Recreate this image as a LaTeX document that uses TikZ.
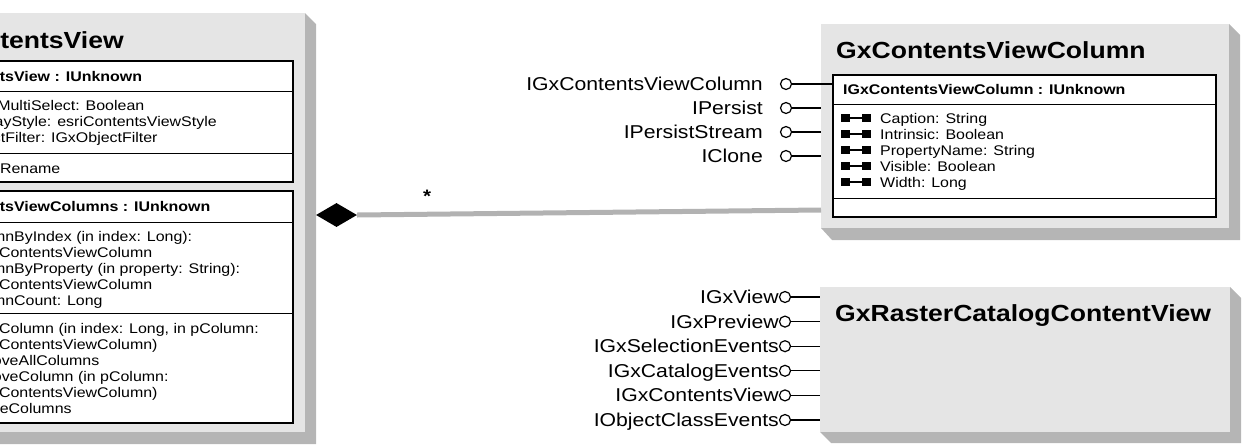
\documentclass[tikz,border=0pt]{standalone}
\usepackage{fontspec}
\setmainfont{Liberation Sans}[FakeStretch=1.14]
\usetikzlibrary{shapes.geometric}
\definecolor{facegray}{gray}{0.90}
\definecolor{shadegray}{gray}{0.71}
\definecolor{conngray}{gray}{0.70}
\tikzset{
  txt/.style={anchor=base west, inner sep=0pt, font=\fontsize{14}{16}\selectfont},
  hdr/.style={anchor=base west, inner sep=0pt, font=\fontsize{14}{16}\selectfont\bfseries},
  ttl/.style={anchor=base west, inner sep=0pt, font=\fontsize{23.3}{26}\selectfont\bfseries},
  lbl/.style={anchor=base east, inner sep=0pt, font=\fontsize{18.6}{20}\selectfont},
  lolli/.style={circle, draw, line width=1.2pt, fill=white, minimum size=11pt, inner sep=0pt},
  lollline/.style={line width=1.3pt},
  ibox/.style={draw, line width=1.5pt, fill=white},
  divider/.style={line width=1pt},
  facebox/.style={fill=facegray, draw=none, anchor=north west, inner sep=0pt},
  shadow/.style={fill=shadegray, draw=none},
  propicon/.style={fill=black},
}
\begin{document}
\begin{tikzpicture}[x=1pt,y=-1pt]
\useasboundingbox (0,0) rectangle (1243,445);
\clip (0,0) rectangle (1243,445);

% ---------- left class GxContentsView ----------
\fill[shadow] (305,13) -- (316,24) -- (316,444) -- (-91,444) -- (-102,432) -- cycle;
\node[facebox, minimum width=407pt, minimum height=419pt] (cv) at (-102,13) {};
\node[ttl] (cvtitle) at (-87,48) {GxContentsView};
% box 1
\draw[ibox] (-92,61) rectangle (293,182);
\draw[divider] (-92,91) -- (293,91);
\draw[divider] (-92,153) -- (293,153);
\node[hdr] (cvh1) at (-81,81) {IGxContentsView : IUnknown};
\node[txt] (cva1) at (-41,110) {AllowMultiSelect: Boolean};
\node[txt] (cva2) at (-41,126) {DisplayStyle: esriContentsViewStyle};
\node[txt] (cva3) at (-41,142) {ObjectFilter: IGxObjectFilter};
\node[txt] (cvm1) at (-41,173) {BeginRename};
% box 2
\draw[ibox] (-92,191) rectangle (293,423);
\draw[divider] (-92,222) -- (293,222);
\draw[divider] (-92,313) -- (293,313);
\node[hdr] (cvh2) at (-81,211) {IGxContentsViewColumns : IUnknown};
\node[txt] (cvb1) at (-41,241) {ColumnByIndex (in index: Long):};
\node[txt] (cvb2) at (-26,257) {IGxContentsViewColumn};
\node[txt] (cvb3) at (-41,273) {ColumnByProperty (in property: String):};
\node[txt] (cvb4) at (-26,289) {IGxContentsViewColumn};
\node[txt] (cvb5) at (-41,305) {ColumnCount: Long};
\node[txt] (cvn1) at (-41,333) {InsertColumn (in index: Long, in pColumn:};
\node[txt] (cvn2) at (-26,349) {IGxContentsViewColumn)};
\node[txt] (cvn3) at (-41,365) {RemoveAllColumns};
\node[txt] (cvn4) at (-41,381) {RemoveColumn (in pColumn:};
\node[txt] (cvn5) at (-26,397) {IGxContentsViewColumn)};
\node[txt] (cvn6) at (-43,413) {UpdateColumns};

% ---------- right class GxContentsViewColumn ----------
\fill[shadow] (1229,24) -- (1240,35) -- (1240,240) -- (832,240) -- (821,228) -- cycle;
\node[facebox, minimum width=408pt, minimum height=204pt] (col) at (821,24) {};
\node[ttl] (coltitle) at (836,58) {GxContentsViewColumn};
\node[ibox, anchor=north west, minimum width=383pt, minimum height=142pt, inner sep=0pt] (colint) at (832,74) {};
\draw[divider] (832,104) -- (1215,104);
\draw[divider] (832,198) -- (1215,198);
\node[hdr] (colh) at (843,94) {IGxContentsViewColumn : IUnknown};
\foreach \t [count=\i] in {Caption: String, Intrinsic: Boolean, PropertyName: String, Visible: Boolean, Width: Long}{
  \pgfmathsetmacro\yy{123+16*(\i-1)}
  \fill[propicon] (841,\yy-9) rectangle (850,\yy-1);
  \fill[propicon] (862,\yy-9) rectangle (871,\yy-1);
  \draw[line width=1.2pt] (850,\yy-5) -- (862,\yy-5);
  \node[txt] (cola\i) at (880,\yy) {\t};
}

% lollipops of GxContentsViewColumn
\node[lolli] (c1) at (786,84) {};
\node[lolli] (c2) at (786,108) {};
\node[lolli] (c3) at (786,132) {};
\node[lolli] (c4) at (786,156) {};
\node[lbl] (l1) at (763,90.5) {IGxContentsViewColumn};
\node[lbl] (l2) at (763,114.5) {IPersist};
\node[lbl] (l3) at (763,138.5) {IPersistStream};
\node[lbl] (l4) at (763,162.5) {IClone};
\draw[lollline] (c1.east) -- (colint.west |- c1);
\draw[lollline] (c2.east) -- (col.west |- c2);
\draw[lollline] (c3.east) -- (col.west |- c3);
\draw[lollline] (c4.east) -- (col.west |- c4);

% ---------- bottom class GxRasterCatalogContentView ----------
\fill[shadow] (1230,287) -- (1241,298) -- (1241,443) -- (831,443) -- (820,432) -- cycle;
\node[facebox, minimum width=410pt, minimum height=145pt] (rc) at (820,287) {};
\node[ttl] (rctitle) at (835,321) {GxRasterCatalogContentView};
\foreach \t/\yy [count=\i] in {IGxView/297, IGxPreview/321.6, IGxSelectionEvents/346.2, IGxCatalogEvents/370.8, IGxContentsView/395.4, IObjectClassEvents/420}{
  \node[lolli] (r\i) at (785,\yy) {};
  \node[lbl] (rl\i) at (779,\yy+6.5) {\t};
  \draw[lollline] (r\i.east) -- (rc.west |- r\i);
}

% ---------- composition connector ----------
\coordinate (colend) at (821,210);
\node[diamond, fill=black, minimum width=41pt, minimum height=24pt, inner sep=0pt] (dia) at (336.5,215) {};
\draw[conngray, line width=5pt] (dia.east) -- (colend);
\node[anchor=base, inner sep=0pt, font=\fontsize{18}{20}\selectfont\bfseries] (mult) at (427,202) {*};
\end{tikzpicture}
\end{document}
